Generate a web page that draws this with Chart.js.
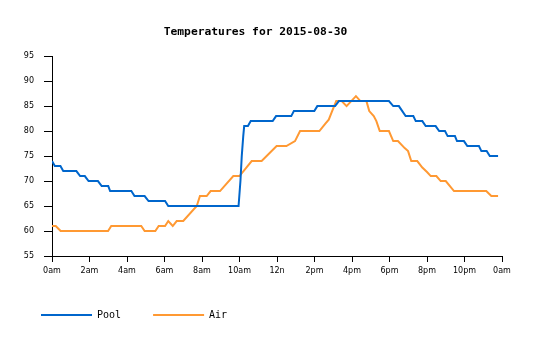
<!DOCTYPE html>
<html>
<head>
<meta charset="utf-8">
<script src="https://cdn.jsdelivr.net/npm/chart.js@4/dist/chart.umd.min.js"></script>
<style>
  html, body { margin: 0; padding: 0; background: #fff; }
  #wrap { width: 535px; height: 340px; }
</style>
</head>
<body>
<div id="wrap"><canvas id="c" width="535" height="340"></canvas></div>
<script>
// ---- data (hour of day, temperature °F) ----
const titleText = 'Temperatures for 2015-08-30';
const seriesNames = ['Pool', 'Air'];
const yTicks = [55, 60, 65, 70, 75, 80, 85, 90, 95];
const xTickHours = [0, 2, 4, 6, 8, 10, 12, 14, 16, 18, 20, 22, 24];
const xTickLabels = ['0am', '2am', '4am', '6am', '8am', '10am', '12n', '2pm', '4pm', '6pm', '8pm', '10pm', '0am'];

const poolHours = [0.0, 0.15, 0.45, 0.6, 1.3, 1.5, 1.75, 1.95, 2.45, 2.65, 3.0, 3.1, 4.23, 4.4, 4.94, 5.15, 6.03, 6.2,
  9.95, 10.05, 10.12, 10.2, 10.25, 10.45, 10.6, 11.77, 11.95, 12.76, 12.9, 13.99, 14.15, 15.1, 15.3,
  17.97, 18.2, 18.5, 18.86, 19.27, 19.4, 19.75, 19.93, 20.46, 20.65, 20.96, 21.1, 21.49, 21.6, 21.97,
  22.15, 22.77, 22.9, 23.18, 23.35, 23.79];
const poolTemps = [74, 73, 73, 72, 72, 71, 71, 70, 70, 69, 69, 68, 68, 67, 67, 66, 66, 65,
  65, 70, 75, 79, 81, 81, 82, 82, 83, 83, 84, 84, 85, 85, 86,
  86, 85, 85, 83, 83, 82, 82, 81, 81, 80, 80, 79, 79, 78, 78,
  77, 77, 76, 76, 75, 75];

const airHours = [0.0, 0.2, 0.46, 2.99, 3.16, 4.76, 4.94, 5.51, 5.69, 6.03, 6.2, 6.44, 6.65, 7.0, 7.72, 7.89,
  8.25, 8.46, 8.96, 9.67, 10.0, 10.65, 11.18, 11.98, 12.5, 12.96, 13.23, 14.26, 14.58, 14.76, 14.94,
  15.16, 15.45, 15.71, 16.21, 16.45, 16.77, 16.92, 17.16, 17.3, 17.48, 17.97, 18.2, 18.45, 18.81,
  18.99, 19.16, 19.48, 19.75, 20.0, 20.2, 20.5, 20.73, 21.0, 21.44, 23.16, 23.43, 23.79];
const airTemps = [61, 61, 60, 60, 61, 61, 60, 60, 61, 61, 62, 61, 62, 62, 65, 67,
  67, 68, 68, 71, 71, 74, 74, 77, 77, 78, 80, 80, 81.5, 82.3, 84,
  86, 86, 85, 87, 86, 86, 84, 83, 82, 80, 80, 78, 78, 76.6,
  76, 74, 74, 72.7, 71.8, 71, 71, 70, 70, 68, 68, 67, 67];

const seriesColors = ['#0066cc', '#ff9933'];
// ---------------------------------------------------------------------------

const toPoints = (xs, ys) => xs.map((x, i) => ({ x: x, y: ys[i] }));

const ctx = document.getElementById('c').getContext('2d');
new Chart(ctx, {
  type: 'line',
  data: {
    datasets: [
      { label: seriesNames[0], data: toPoints(poolHours, poolTemps),
        borderColor: seriesColors[0], backgroundColor: seriesColors[0] },
      { label: seriesNames[1], data: toPoints(airHours, airTemps),
        borderColor: seriesColors[1], backgroundColor: seriesColors[1] }
    ]
  },
  options: {
    responsive: false,
    devicePixelRatio: 1,
    animation: false,
    events: [],
    layout: { padding: { left: 9, right: 33, top: 0, bottom: 10 } },
    elements: {
      line: { borderWidth: 2, tension: 0 },
      point: { radius: 0 }
    },
    plugins: {
      tooltip: { enabled: false },
      title: {
        display: true,
        text: titleText,
        color: '#000',
        font: { family: 'DejaVu Sans Mono', size: 11.3, weight: 'bold' },
        padding: { top: 25, bottom: 17.6 }
      },
      legend: {
        display: true,
        position: 'bottom',
        align: 'start',
        labels: {
          color: '#000',
          font: { family: 'DejaVu Sans Mono', size: 10 },
          boxWidth: 51,
          boxHeight: 2,
          padding: 32,
          generateLabels: (chart) => {
            const items = Chart.defaults.plugins.legend.labels.generateLabels(chart);
            items.forEach(it => { it.lineWidth = 0; it.fillStyle = it.strokeStyle; });
            return items;
          }
        }
      }
    },
    scales: {
      x: {
        type: 'linear',
        min: xTickHours[0],
        max: xTickHours[xTickHours.length - 1],
        afterBuildTicks: (scale) => { scale.ticks = xTickHours.map(v => ({ value: v })); },
        afterFit: (scale) => { scale.height = 22; },
        ticks: {
          autoSkip: false,
          maxRotation: 0,
          padding: 4,
          color: '#000',
          font: { family: 'DejaVu Sans', size: 8 },
          callback: (v) => xTickLabels[xTickHours.indexOf(v)]
        },
        grid: { drawOnChartArea: false, drawTicks: true, tickLength: 6, color: '#000', lineWidth: 1 },
        border: { display: true, color: '#000', width: 1 }
      },
      y: {
        type: 'linear',
        min: yTicks[0],
        max: yTicks[yTicks.length - 1],
        afterBuildTicks: (scale) => { scale.ticks = yTicks.map(v => ({ value: v })); },
        afterFit: (scale) => { scale.width = 43; },
        ticks: {
          padding: 10,
          color: '#000',
          font: { family: 'DejaVu Sans', size: 8 }
        },
        grid: { drawOnChartArea: false, drawTicks: true, tickLength: 8, color: '#000', lineWidth: 1 },
        border: { display: true, color: '#000', width: 1 }
      }
    }
  }
});
</script>
</body>
</html>
